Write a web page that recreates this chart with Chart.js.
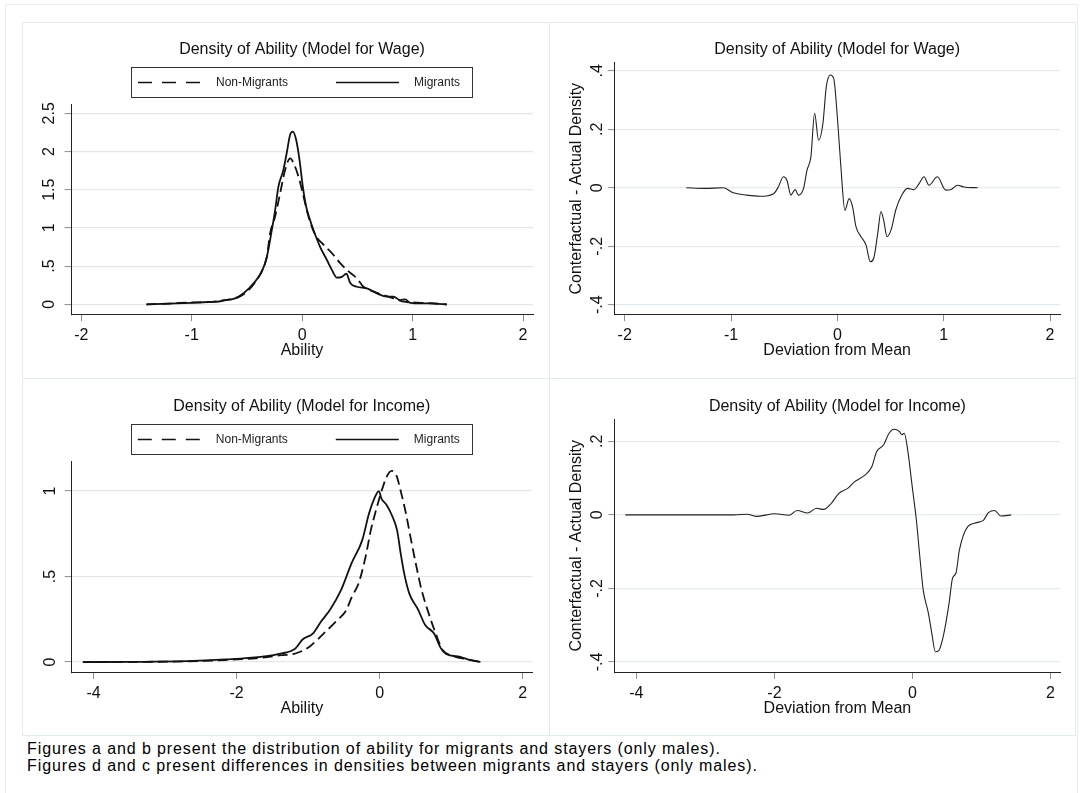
<!DOCTYPE html>
<html>
<head>
<meta charset="utf-8">
<script src="https://cdn.jsdelivr.net/npm/chart.js@4.4.1/dist/chart.umd.min.js"></script>
<style>
html,body{margin:0;padding:0;background:#fff;width:1080px;height:793px;overflow:hidden;font-family:"Liberation Sans",Arial,sans-serif;}
.frame{position:absolute;left:5px;top:4px;width:1071px;height:820px;border-left:1px solid #e8edf0;border-top:1px solid #e8edf0;border-right:1px solid #e8edf0;}
.outer{position:absolute;left:22px;top:22px;width:1054px;height:714px;border:1px solid #e4ebef;box-sizing:border-box;}
.vdiv{position:absolute;left:549px;top:22px;width:1px;height:714px;background:#e4ebef;}
.hdiv{position:absolute;left:22px;top:378px;width:1054px;height:1px;background:#e4ebef;}
canvas{position:absolute;}
.cap{position:absolute;left:27px;font-size:16px;letter-spacing:0.9px;line-height:17.4px;color:#000;white-space:nowrap;}
</style>
</head>
<body>
<div class="frame"></div>
<div class="outer"></div>
<div class="vdiv"></div>
<div class="hdiv"></div>
<canvas id="tl" width="528" height="357" style="left:22px;top:22px"></canvas>
<canvas id="tr" width="526" height="357" style="left:550px;top:22px"></canvas>
<canvas id="bl" width="528" height="357" style="left:22px;top:379px"></canvas>
<canvas id="br" width="526" height="357" style="left:550px;top:379px"></canvas>
<div class="cap" style="top:740px">Figures a and b present the distribution of ability for migrants and stayers (only males).</div>
<div class="cap" style="top:757.4px">Figures d and c present differences in densities between migrants and stayers (only males).</div>
<script>
// ---------- data ----------
const seriesLabels = ['Non-Migrants', 'Migrants'];

// (a) Model for Wage: density of ability
const wageMigX = [-1.41,-1.2,-1.0,-0.85,-0.74,-0.70,-0.62,-0.53,-0.44,-0.365,-0.32,-0.275,-0.245,-0.215,-0.17,-0.14,-0.109,-0.084,-0.054,-0.024,0.006,0.036,0.072,0.118,0.163,0.224,0.269,0.314,0.36,0.40,0.435,0.495,0.586,0.677,0.767,0.827,0.888,0.933,0.978,1.1,1.2,1.31];
const wageMigY = [0,0.01,0.02,0.03,0.04,0.056,0.07,0.144,0.275,0.43,0.62,0.97,1.23,1.54,1.76,1.98,2.22,2.26,2.15,1.89,1.54,1.28,1.10,0.91,0.75,0.58,0.45,0.35,0.36,0.40,0.28,0.23,0.21,0.144,0.10,0.10,0.056,0.065,0.02,0.012,0.01,0];
const wageNonX = [-1.41,-1.2,-1.0,-0.85,-0.72,-0.60,-0.50,-0.42,-0.36,-0.32,-0.29,-0.245,-0.20,-0.154,-0.109,-0.079,-0.033,0.006,0.057,0.118,0.193,0.269,0.344,0.42,0.495,0.555,0.646,0.736,0.827,0.918,1.0,1.15,1.31];
const wageNonY = [0,0.01,0.025,0.03,0.05,0.08,0.165,0.30,0.45,0.62,0.93,1.15,1.45,1.76,1.91,1.85,1.67,1.45,1.15,0.91,0.78,0.67,0.54,0.43,0.34,0.23,0.165,0.12,0.078,0.034,0.025,0.015,0];

// (b) Model for Wage: counterfactual - actual density
const wageDiffX = [-1.42,-1.25,-1.07,-0.98,-0.853,-0.727,-0.60,-0.555,-0.507,-0.475,-0.437,-0.397,-0.366,-0.318,-0.286,-0.249,-0.214,-0.177,-0.136,-0.104,-0.066,-0.035,0.002,0.033,0.071,0.111,0.143,0.175,0.222,0.27,0.31,0.342,0.38,0.41,0.435,0.467,0.505,0.55,0.60,0.66,0.72,0.77,0.815,0.862,0.94,1.02,1.07,1.13,1.19,1.32];
const wageDiffY = [0,-0.002,0,-0.017,-0.025,-0.029,-0.020,0.003,0.038,0.027,-0.025,-0.006,-0.025,-0.002,0.06,0.106,0.255,0.163,0.22,0.346,0.386,0.375,0.232,0.072,-0.077,-0.037,-0.065,-0.133,-0.167,-0.196,-0.253,-0.241,-0.155,-0.081,-0.11,-0.167,-0.144,-0.075,-0.029,-0.002,-0.006,0.015,0.038,0.009,0.038,-0.008,-0.006,0.009,0.003,0];

// (c) Model for Income: density of ability
const incMigX = [-4.15,-3.5,-2.69,-2.155,-1.665,-1.37,-1.176,-1.078,-0.93,-0.83,-0.686,-0.54,-0.39,-0.245,-0.147,-0.073,-0.01,0.025,0.098,0.17,0.245,0.295,0.343,0.416,0.54,0.637,0.76,0.857,0.93,1.127,1.27,1.41];
const incMigY = [0,0.001,0.005,0.015,0.03,0.05,0.08,0.132,0.168,0.23,0.31,0.42,0.58,0.71,0.87,0.957,1.0,0.957,0.918,0.86,0.77,0.635,0.52,0.40,0.305,0.217,0.168,0.08,0.047,0.03,0.012,0];
const incNonX = [-4.15,-3.5,-2.69,-2.155,-1.665,-1.37,-1.176,-0.98,-0.78,-0.588,-0.465,-0.39,-0.294,-0.196,-0.123,-0.049,0.025,0.098,0.17,0.235,0.295,0.368,0.44,0.515,0.588,0.686,0.784,0.882,1.03,1.225,1.41];
const incNonY = [0,0.001,0.004,0.012,0.025,0.04,0.05,0.09,0.168,0.246,0.304,0.38,0.46,0.616,0.77,0.89,0.996,1.083,1.118,1.092,1.0,0.87,0.714,0.558,0.42,0.285,0.168,0.07,0.035,0.015,0];

// (d) Model for Income: counterfactual - actual density
const incDiffX = [-4.16,-2.59,-2.39,-2.27,-1.99,-1.79,-1.67,-1.52,-1.39,-1.29,-1.17,-1.07,-0.94,-0.84,-0.69,-0.59,-0.52,-0.42,-0.34,-0.27,-0.19,-0.154,-0.12,-0.07,-0.004,0.056,0.106,0.155,0.23,0.28,0.33,0.38,0.455,0.53,0.58,0.63,0.68,0.80,0.93,1.03,1.10,1.19,1.28,1.43];
const incDiffY = [0,0,0.002,-0.004,0.003,-0.001,0.012,0.005,0.018,0.015,0.033,0.058,0.072,0.09,0.108,0.131,0.172,0.19,0.222,0.233,0.227,0.218,0.222,0.177,0.077,-0.014,-0.113,-0.204,-0.267,-0.322,-0.372,-0.369,-0.322,-0.24,-0.172,-0.158,-0.095,-0.032,-0.021,-0.014,0.006,0.012,-0.003,0];

// ticks
const xTicksWage = [-2,-1,0,1,2];
const xTickLabelsWage = ['-2','-1','0','1','2'];
const xTicksInc = [-4,-2,0,2];
const xTickLabelsInc = ['-4','-2','0','2'];
const yTicksA = [0,0.5,1,1.5,2,2.5];
const yTickLabelsA = ['0','.5','1','1.5','2','2.5'];
const yTicksB = [-0.4,-0.2,0,0.2,0.4];
const yTickLabelsB = ['-.4','-.2','0','.2','.4'];
const yTicksC = [0,0.5,1];
const yTickLabelsC = ['0','.5','1'];
const yTicksD = [-0.4,-0.2,0,0.2];
const yTickLabelsD = ['-.4','-.2','0','.2'];

const titleWage = 'Density of Ability (Model for Wage)';
const titleInc = 'Density of Ability (Model for Income)';
const xTitleAbility = 'Ability';
const xTitleDev = 'Deviation from Mean';
const yTitleDiff = 'Conterfactual - Actual Density';

// ---------- helpers ----------
const FONT = '"Liberation Sans", Arial, sans-serif';
const mctx = document.createElement('canvas').getContext('2d');
function widest(labels) {
  mctx.font = 'normal 16px ' + FONT;
  return Math.max(...labels.map(l => mctx.measureText(l).width));
}
function pts(xs, ys) { return xs.map((x, i) => ({x: x, y: ys[i]})); }

const boxLegend = {
  id: 'boxLegend',
  afterDraw(chart, args, opts) {
    const ctx = chart.ctx, a = chart.chartArea;
    const cx = (a.left + a.right) / 2;
    const yc = 60.5;
    ctx.save();
    ctx.strokeStyle = '#333';
    ctx.lineWidth = 1;
    ctx.strokeRect(Math.round(cx - 171) + 0.5, 45.5, 341, 30);
    ctx.strokeStyle = '#111';
    ctx.lineWidth = 1.5;
    ctx.setLineDash([14, 10]);
    ctx.beginPath(); ctx.moveTo(cx - 164, yc); ctx.lineTo(cx - 102, yc); ctx.stroke();
    ctx.setLineDash([]);
    ctx.beginPath(); ctx.moveTo(cx + 34, yc); ctx.lineTo(cx + 97, yc); ctx.stroke();
    ctx.fillStyle = '#222';
    ctx.font = 'normal 12px ' + FONT;
    ctx.textBaseline = 'middle';
    ctx.textAlign = 'left';
    ctx.fillText(opts.labels[0], cx - 86, yc + 0.5);
    ctx.fillText(opts.labels[1], cx + 112, yc + 0.5);
    ctx.restore();
  }
};

function makeChart(id, p) {
  const yPad = p.yGap - 6.5 - widest(p.yTickLabels) / 2;
  const datasets = p.series.map(s => ({
    label: s.label,
    data: pts(s.xs, s.ys),
    borderColor: s.color,
    borderWidth: s.width,
    borderDash: s.dash || [],
    pointRadius: 0,
    fill: false,
    cubicInterpolationMode: 'monotone'
  }));
  const tickFont = {family: FONT, size: 16, weight: 'normal'};
  return new Chart(document.getElementById(id), {
    type: 'line',
    data: {datasets: datasets},
    plugins: p.legend ? [boxLegend] : [],
    options: {
      responsive: false,
      animation: false,
      devicePixelRatio: 1,
      events: [],
      layout: {padding: {left: 0, right: p.padRight, top: 0, bottom: p.padBottom}},
      plugins: {
        legend: {display: false},
        tooltip: {enabled: false},
        title: {display: true, text: p.title, color: '#111', fullSize: false,
                font: {family: FONT, size: 16, weight: 'normal'},
                padding: {top: 18, bottom: p.titleBottom}},
        boxLegend: {labels: seriesLabels}
      },
      scales: {
        x: {
          type: 'linear', position: 'bottom', min: p.xMin, max: p.xMax,
          afterBuildTicks: s => { s.ticks = p.xTicks.map(v => ({value: v})); },
          afterFit: s => { s.height = 45.6; },
          grid: {drawOnChartArea: false, drawTicks: true, tickLength: 6.5, tickColor: '#8c8c8c', tickWidth: 1},
          border: {display: true, color: '#222', width: 1},
          ticks: {color: '#111', font: tickFont, padding: 4.7, minRotation: 0, maxRotation: 0,
                  callback: (v, i) => p.xTickLabels[i]},
          title: {display: true, text: p.xTitle, color: '#111', font: tickFont, padding: {top: 0, bottom: 0}}
        },
        y: {
          type: 'linear', position: 'left', min: p.yMin, max: p.yMax,
          afterBuildTicks: s => { s.ticks = p.yTicks.map(v => ({value: v})); },
          afterFit: s => { s.width = p.yWidth; },
          grid: {drawOnChartArea: true, color: p.gridColor, lineWidth: 1.2, drawTicks: true,
                 tickLength: 6.5, tickColor: '#8c8c8c', tickWidth: 1},
          border: {display: true, color: '#222', width: 1},
          ticks: {color: '#111', font: tickFont, padding: yPad, minRotation: 90, maxRotation: 90,
                  crossAlign: 'center', callback: (v, i) => p.yTickLabels[i]},
          title: p.yTitle ? {display: true, text: p.yTitle, color: '#111', font: tickFont,
                             padding: {top: 17.4, bottom: 0}} : {display: false}
        }
      }
    }
  });
}

makeChart('tl', {
  title: titleWage, legend: true, titleBottom: 45.1, padRight: 17, padBottom: 18.7,
  xMin: -2.093, xMax: 2.09, xTicks: xTicksWage, xTickLabels: xTickLabelsWage, xTitle: xTitleAbility,
  yMin: -0.136, yMax: 2.618, yTicks: yTicksA, yTickLabels: yTickLabelsA, yWidth: 49, yGap: 21,
  gridColor: '#e6e6e6',
  series: [
    {label: seriesLabels[0], xs: wageNonX, ys: wageNonY, color: '#111', width: 1.8, dash: [10, 5]},
    {label: seriesLabels[1], xs: wageMigX, ys: wageMigY, color: '#111', width: 1.8}
  ]
});
makeChart('tr', {
  title: titleWage, legend: false, titleBottom: 3.5, padRight: 16, padBottom: 18.7,
  xMin: -2.098, xMax: 2.094, xTicks: xTicksWage, xTickLabels: xTickLabelsWage, xTitle: xTitleDev,
  yMin: -0.434, yMax: 0.428, yTicks: yTicksB, yTickLabels: yTickLabelsB, yWidth: 64.3, yGap: 17,
  yTitle: yTitleDiff, gridColor: '#e3ebef',
  series: [
    {label: 'Difference', xs: wageDiffX, ys: wageDiffY, color: '#222', width: 1.1}
  ]
});
makeChart('bl', {
  title: titleInc, legend: true, titleBottom: 45.1, padRight: 17.6, padBottom: 18.1,
  xMin: -4.313, xMax: 2.137, xTicks: xTicksInc, xTickLabels: xTickLabelsInc, xTitle: xTitleAbility,
  yMin: -0.06, yMax: 1.174, yTicks: yTicksC, yTickLabels: yTickLabelsC, yWidth: 49.2, yGap: 21,
  gridColor: '#e6e6e6',
  series: [
    {label: seriesLabels[0], xs: incNonX, ys: incNonY, color: '#111', width: 1.8, dash: [10, 5]},
    {label: seriesLabels[1], xs: incMigX, ys: incMigY, color: '#111', width: 1.8}
  ]
});
makeChart('br', {
  title: titleInc, legend: false, titleBottom: 3.1, padRight: 16, padBottom: 18.1,
  xMin: -4.313, xMax: 2.137, xTicks: xTicksInc, xTickLabels: xTickLabelsInc, xTitle: xTitleDev,
  yMin: -0.428, yMax: 0.26, yTicks: yTicksD, yTickLabels: yTickLabelsD, yWidth: 64.8, yGap: 17,
  yTitle: yTitleDiff, gridColor: '#e3ebef',
  series: [
    {label: 'Difference', xs: incDiffX, ys: incDiffY, color: '#222', width: 1.1}
  ]
});
</script>
</body>
</html>
